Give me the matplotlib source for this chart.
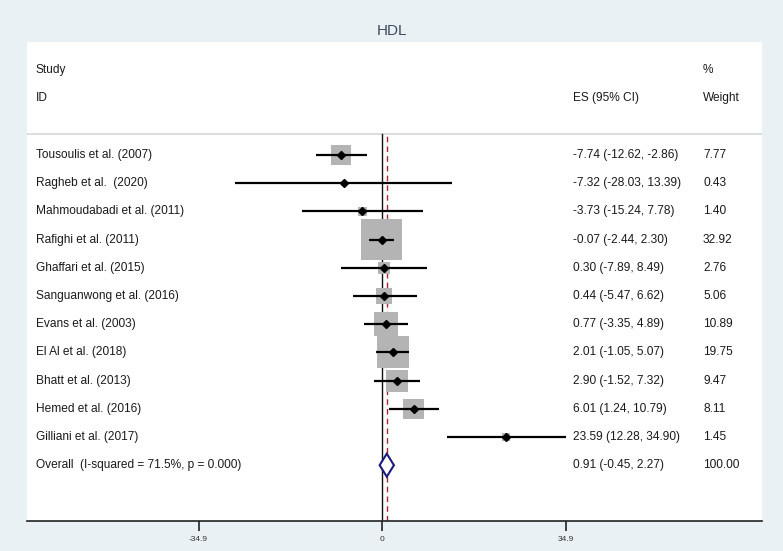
import matplotlib
matplotlib.use("Agg")
import matplotlib.pyplot as plt
import numpy as np
from matplotlib.patches import Polygon, Rectangle
from matplotlib.transforms import blended_transform_factory

plt.rcParams['font.family'] = ['Liberation Sans', 'DejaVu Sans']

studies = ["Tousoulis et al. (2007)", "Ragheb et al.  (2020)", "Mahmoudabadi et al. (2011)",
           "Rafighi et al. (2011)", "Ghaffari et al. (2015)", "Sanguanwong et al. (2016)",
           "Evans et al. (2003)", "El Al et al. (2018)", "Bhatt et al. (2013)",
           "Hemed et al. (2016)", "Gilliani et al. (2017)"]
es = [-7.74, -7.32, -3.73, -0.07, 0.30, 0.44, 0.77, 2.01, 2.90, 6.01, 23.59]
lo = [-12.62, -28.03, -15.24, -2.44, -7.89, -5.47, -3.35, -1.05, -1.52, 1.24, 12.28]
hi = [-2.86, 13.39, 7.78, 2.30, 8.49, 6.62, 4.89, 5.07, 7.32, 10.79, 34.90]
weights = [7.77, 0.43, 1.40, 32.92, 2.76, 5.06, 10.89, 19.75, 9.47, 8.11, 1.45]
overall_label = "Overall  (I-squared = 71.5%, p = 0.000)"
overall = (0.91, -0.45, 2.27)
overall_weight = 100.00
xticks = [-34.9, 0, 34.9]
xticklabels = ["-34.9", "0", "34.9"]

W, H = 783, 551
bg = '#e9f1f4'
fig = plt.figure(figsize=(W/100, H/100), dpi=100, facecolor=bg)

left, right, top, bottom = 27, 762, 42, 521
ax = fig.add_axes([left/W, 1-bottom/H, (right-left)/W, (bottom-top)/H])
ax.set_facecolor('white')

row0, rowstep = 155, 28.2
px_per_unit = 183.5/34.9
x0px = 382
ax.set_xlim((left-x0px)/px_per_unit, (right-x0px)/px_per_unit)
ax.set_ylim((bottom-row0)/rowstep, (top-row0)/rowstep)

header_y = (133.5-row0)/rowstep
n = len(studies)

ax.axhline(header_y, color='#dcdfe1', lw=1.5, zorder=1)

frac_header = (bottom-133.5)/(bottom-top)
ax.axvline(0, ymin=0, ymax=frac_header, color='#111111', lw=1.0, zorder=2)
ax.axvline(overall[0], ymin=0, ymax=frac_header, color='#b22234', lw=1.0, ls=(0, (4, 3)), zorder=2)

unit_per_px_x = 1/px_per_unit
unit_per_px_y = 1/rowstep
for i in range(n):
    side = 7.2*np.sqrt(weights[i])
    w = side*unit_per_px_x
    h = side*unit_per_px_y
    ax.add_patch(Rectangle((es[i]-w/2, i-h/2), w, h, facecolor='#b4b4b4', edgecolor='none', zorder=3))
for i in range(n):
    ax.plot([lo[i], hi[i]], [i, i], color='black', lw=1.6, zorder=4, solid_capstyle='butt')
    ax.plot(es[i], i, marker='D', color='black', ms=4.5, zorder=5)

oy = n
dh = 11.5*unit_per_px_y
ax.add_patch(Polygon([(overall[1], oy), (overall[0], oy-dh), (overall[2], oy), (overall[0], oy+dh)],
                     closed=True, facecolor='white', edgecolor='#1a1a7a', lw=1.5, zorder=5))

fs = 8.6
def fx(px):
    return (px-left)/(right-left)
btr = blended_transform_factory(ax.transAxes, ax.transData)
txtc = '#1a1a1a'
ax.text(fx(36), (70-row0)/rowstep, "Study", transform=btr, va='center', fontsize=fs, color=txtc)
ax.text(fx(36), (98-row0)/rowstep, "ID", transform=btr, va='center', fontsize=fs, color=txtc)
ax.text(fx(573), (98-row0)/rowstep, "ES (95% CI)", transform=btr, va='center', fontsize=fs, color=txtc)
ax.text(fx(703), (70-row0)/rowstep, "%", transform=btr, va='center', fontsize=fs, color=txtc)
ax.text(fx(703), (98-row0)/rowstep, "Weight", transform=btr, va='center', fontsize=fs, color=txtc)
for i in range(n):
    ax.text(fx(36), i, studies[i], transform=btr, va='center', fontsize=fs, color=txtc)
    ax.text(fx(573), i, f"{es[i]:.2f} ({lo[i]:.2f}, {hi[i]:.2f})", transform=btr, va='center', fontsize=fs, color=txtc)
    ax.text(fx(703), i, f"{weights[i]:.2f}", transform=btr, va='center', fontsize=fs, color=txtc)
ax.text(fx(36), n, overall_label, transform=btr, va='center', fontsize=fs, color=txtc)
ax.text(fx(573), n, f"{overall[0]:.2f} ({overall[1]:.2f}, {overall[2]:.2f})", transform=btr, va='center', fontsize=fs, color=txtc)
ax.text(fx(703), n, f"{overall_weight:.2f}", transform=btr, va='center', fontsize=fs, color=txtc)

for s in ['top', 'left', 'right']:
    ax.spines[s].set_visible(False)
ax.spines['bottom'].set_color('#222222')
ax.spines['bottom'].set_linewidth(1.2)
ax.set_yticks([])
ax.set_xticks(xticks)
ax.set_xticklabels(xticklabels, fontsize=6, color='#333333')
ax.tick_params(axis='x', length=7, width=1.2, color='#222222', pad=4)

fig.text(0.5, 1-31/H, "HDL", ha='center', va='center', fontsize=11, color='#3c4a5c')

fig.savefig("out.png", dpi=100, facecolor=bg)
